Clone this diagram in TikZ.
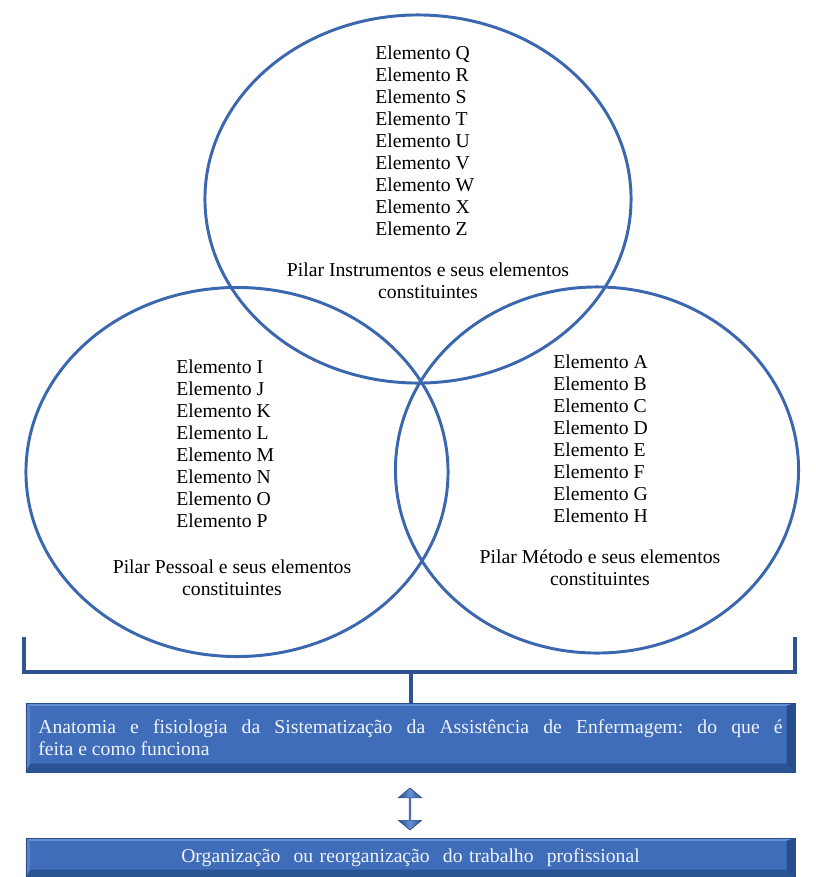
\documentclass[tikz,border=0pt]{standalone}
\usepackage{fontspec}
\setmainfont{Liberation Serif}
\usetikzlibrary{shapes.geometric, shapes.arrows, positioning, calc}
\definecolor{anel}{HTML}{3B67AF}
\definecolor{caixa}{HTML}{3F6DB9}
\definecolor{caixaesc}{HTML}{264E8C}
\definecolor{caixaclara}{HTML}{6690D2}
\definecolor{barra}{HTML}{2F538F}
\frenchspacing

\begin{document}
\begin{tikzpicture}[x=0.025cm, y=-0.025cm, font=\fontsize{14}{15.6}\selectfont,
    pilar/.style={draw=anel, line width=2.1pt, ellipse, inner sep=0pt},
    lista/.style={align=left, anchor=north west, inner sep=0pt},
    legenda/.style={align=center, anchor=north, inner sep=0pt},
    barra/.style={draw=barra, line width=2.3pt},
    faixa/.style={fill=caixa, draw=caixaesc, line width=0.4pt, text=white!92!caixa,
        minimum width=19.225cm, inner ysep=0pt, inner xsep=0.3125cm,
        path picture={
            \fill[caixaclara] (path picture bounding box.north west) -- (path picture bounding box.north east)
                -- ([shift={(-6pt,-2pt)}]path picture bounding box.north east) -- ([shift={(3pt,-2pt)}]path picture bounding box.north west) -- cycle;
            \fill[caixaclara!60!caixa] (path picture bounding box.north west) -- ([shift={(3pt,-2pt)}]path picture bounding box.north west)
                -- ([shift={(3pt,6pt)}]path picture bounding box.south west) -- (path picture bounding box.south west) -- cycle;
            \fill[caixaesc] (path picture bounding box.north east) -- (path picture bounding box.south east)
                -- ([shift={(-6pt,6pt)}]path picture bounding box.south east) -- ([shift={(-6pt,-2pt)}]path picture bounding box.north east) -- cycle;
            \fill[caixaesc!80!caixa] (path picture bounding box.south west) -- (path picture bounding box.south east)
                -- ([shift={(-6pt,6pt)}]path picture bounding box.south east) -- ([shift={(3pt,6pt)}]path picture bounding box.south west) -- cycle;
        }},
    seta/.style={double arrow, shape border rotate=90, left color=caixaesc, right color=caixaesc, middle color=caixaclara,
        draw=caixaesc, line width=0.5pt, minimum height=1.05cm, minimum width=0.575cm,
        double arrow head extend=0.13cm, double arrow tip angle=100, inner sep=0pt}]
    \useasboundingbox (0,0) rectangle (816,877);

    \node[pilar, minimum width=10.65cm, minimum height=9.2cm] (instr) at (418,199) {};
    \node[pilar, minimum width=10.55cm, minimum height=9.225cm] (pessoal) at (237,472) {};
    \node[pilar, minimum width=10.075cm, minimum height=9.15cm] (metodo) at (597,470) {};

    \node[lista] (listainstr) at (375,46) {Elemento Q\\Elemento R\\Elemento S\\Elemento T\\Elemento U\\Elemento V\\Elemento W\\Elemento X\\Elemento Z};
    \node[legenda] (leginstr) at (428,263) {Pilar Instrumentos e seus elementos\\constituintes};
    \node[lista] (listapessoal) at (176,360) {Elemento I\\Elemento J\\Elemento K\\Elemento L\\Elemento M\\Elemento N\\Elemento O\\Elemento P};
    \node[legenda] (legpessoal) at (232,560) {Pilar Pessoal e seus elementos\\constituintes};
    \node[lista] (listametodo) at (553,355) {Elemento A\\Elemento B\\Elemento C\\Elemento D\\Elemento E\\Elemento F\\Elemento G\\Elemento H};
    \node[legenda] (legmetodo) at (600,550) {Pilar Método e seus elementos\\constituintes};

    \node[faixa, minimum height=1.725cm, text width=18.6cm, align=justify] (anat) at (410.5,737.5) {Anatomia e fisiologia da Sistematização da Assistência de Enfermagem: do que é\linebreak feita e como funciona};
    \node[seta] (dupla) at (410,809) {};
    \node[faixa, minimum height=1cm, text width=18.6cm, align=center] (org) at (410.5,858) {Organização\ \ ou reorganização\ \ do trabalho\ \ profissional};

    \coordinate (chave-e) at (24,637);
    \coordinate (chave-d) at (795,637);
    \coordinate (chave-m) at (411,672);
    \draw[barra] (chave-e) |- (chave-m) -| (chave-d);
    \draw[barra] (chave-m) -- (chave-m |- anat.north);
\end{tikzpicture}
\end{document}
